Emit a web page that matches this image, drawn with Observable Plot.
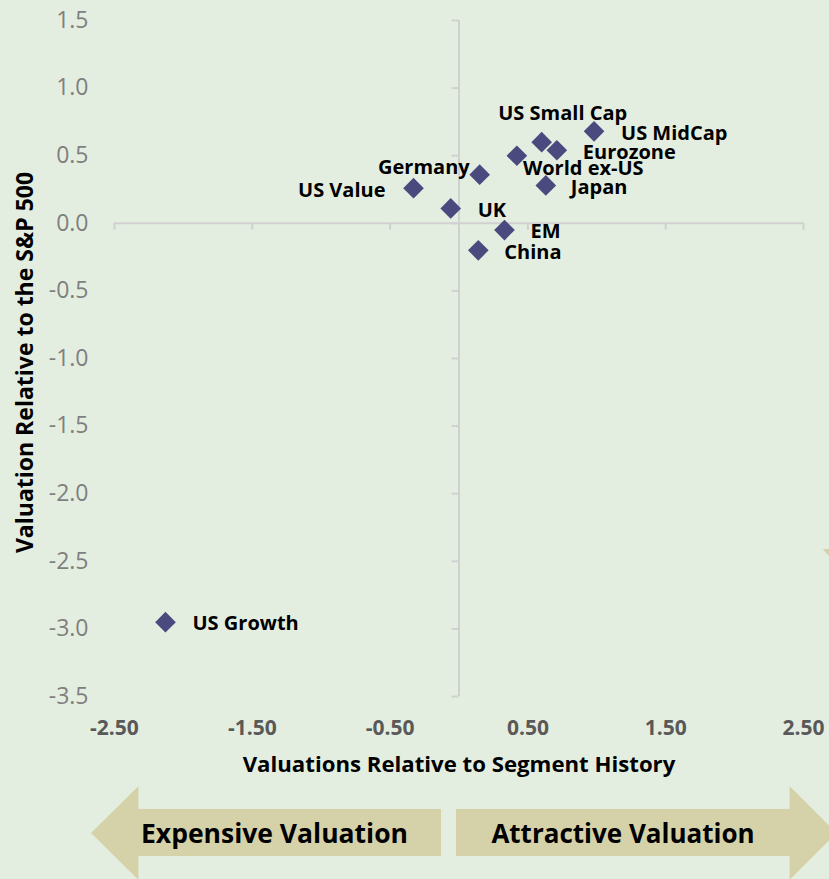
<!DOCTYPE html>
<html>
<head>
<meta charset="utf-8">
<script src="https://cdn.jsdelivr.net/npm/d3@7"></script>
<script src="https://cdn.jsdelivr.net/npm/@observablehq/plot@0.6"></script>
<style>
  html, body { margin: 0; padding: 0; background: #e4eee0; }
  #wrap { position: relative; width: 829px; height: 879px; overflow: hidden; background: #e4eee0; font-family: "Open Sans", sans-serif; }
  #wrap > svg.deco { position: absolute; left: 0; top: 0; pointer-events: none; }
</style>
</head>
<body>
<div id="wrap"></div>
<script>
// ---- data ----
const names   = ["US Small Cap", "US MidCap", "Eurozone", "World ex-US", "Germany", "US Value", "Japan", "UK", "EM", "China", "US Growth"];
const xValues = [0.60, 0.98, 0.71, 0.42, 0.15, -0.33, 0.63, -0.06, 0.33, 0.14, -2.13];
const yValues = [0.60, 0.68, 0.54, 0.50, 0.36, 0.26, 0.28, 0.11, -0.05, -0.20, -2.95];
const xTicks  = [-2.5, -1.5, -0.5, 0.5, 1.5, 2.5];
const yTicks  = [1.5, 1.0, 0.5, 0.0, -0.5, -1.0, -1.5, -2.0, -2.5, -3.0, -3.5];
const xTitle  = "Valuations Relative to Segment History";
const yTitle  = "Valuation Relative to the S&P 500";
const arrowLabels = ["Expensive Valuation", "Attractive Valuation"];

// ---- label placement (style, not data) ----
const placement = {
  "US Small Cap": {dx: 21, dy: -29, anchor: "middle"},
  "US MidCap":    {dx: 27, dy: 2, anchor: "start"},
  "Eurozone":     {dx: 26, dy: 2, anchor: "start"},
  "World ex-US":  {dx: 6,  dy: 13, anchor: "start"},
  "Germany":      {dx: -10, dy: -7, anchor: "end"},
  "US Value":     {dx: -28, dy: 2, anchor: "end"},
  "Japan":        {dx: 25, dy: 2, anchor: "start"},
  "UK":           {dx: 27, dy: 2, anchor: "start"},
  "EM":           {dx: 26, dy: 2, anchor: "start"},
  "China":        {dx: 26, dy: 2, anchor: "start"},
  "US Growth":    {dx: 27, dy: 1, anchor: "start"}
};

const points = names.map((n, i) => ({name: n, x: xValues[i], y: yValues[i]}));

const axisColor = "#d0d0d0";
const labelMarks = points.map(p => {
  const pl = placement[p.name];
  return Plot.text([p], {
    x: "x", y: "y", text: "name",
    dx: pl.dx, dy: pl.dy, textAnchor: pl.anchor,
    fontSize: 20, fontWeight: "bold", fill: "#000"
  });
});

const chart = Plot.plot({
  width: 829,
  height: 785,
  marginLeft: 114,
  marginRight: 26,
  marginTop: 20,
  marginBottom: 89,
  style: {background: "transparent", fontFamily: "'Open Sans', sans-serif", overflow: "visible"},
  x: {domain: [-2.5, 2.5], axis: null},
  y: {domain: [-3.5, 1.5], axis: null},
  marks: [
    // axis lines crossing at 0
    Plot.ruleY([0], {stroke: axisColor, strokeWidth: 2}),
    Plot.ruleX([0], {stroke: axisColor, strokeWidth: 2}),
    // tick marks on the crossing axes
    Plot.ruleX(xTicks, {x: d => d, y1: 0, y2: 0, insetBottom: -7, stroke: axisColor, strokeWidth: 2}),
    Plot.ruleY(yTicks, {y: d => d, x1: 0, x2: 0, insetLeft: -7, stroke: axisColor, strokeWidth: 2}),
    // tick labels at the frame edges
    Plot.axisX(xTicks, {anchor: "bottom", tickSize: 0, tickPadding: 24, tickFormat: d => d.toFixed(2),
      fontSize: 21, fontWeight: "bold", color: "#595959", label: null}),
    Plot.axisY(yTicks, {anchor: "left", tickSize: 0, tickPadding: 26, tickFormat: d => d.toFixed(1),
      fontSize: 23, color: "#7f7f7f", label: null}),
    // axis titles
    Plot.text([xTitle], {frameAnchor: "bottom", dy: 75, text: d => d, fontSize: 22.2, fontWeight: "bold", fill: "#000"}),
    Plot.text([yTitle], {frameAnchor: "left", dx: -89, dy: 4, rotate: -90, textAnchor: "middle", text: d => d, fontSize: 23, fontWeight: "bold", fill: "#000"}),
    // points
    Plot.dot(points, {x: "x", y: "y", symbol: "diamond2", r: 9.3, fill: "#4b4a7f", stroke: "none"}),
    ...labelMarks
  ]
});

const wrap = document.getElementById("wrap");
wrap.appendChild(chart);

// decorative arrows below the chart
const ns = "http://www.w3.org/2000/svg";
const deco = document.createElementNS(ns, "svg");
deco.setAttribute("class", "deco");
deco.setAttribute("width", 829);
deco.setAttribute("height", 879);
const arrowFill = "#d5d2aa";
const shapes = [
  "91,833 138.5,786 138.5,809 441,809 441,856 138.5,856 138.5,880",
  "456,809 789.5,809 789.5,786 836.5,833 789.5,880 789.5,856 456,856",
  "822.7,549 829,549 829,556"
];
shapes.forEach(pts => {
  const p = document.createElementNS(ns, "polygon");
  p.setAttribute("points", pts);
  p.setAttribute("fill", arrowFill);
  deco.appendChild(p);
});
[[274.5, arrowLabels[0], 26.5], [623, arrowLabels[1], 26]].forEach(([cx, t, fs]) => {
  const tx = document.createElementNS(ns, "text");
  tx.setAttribute("x", cx);
  tx.setAttribute("y", 833);
  tx.setAttribute("text-anchor", "middle");
  tx.setAttribute("dominant-baseline", "central");
  tx.setAttribute("font-family", "'Open Sans', sans-serif");
  tx.setAttribute("font-weight", "bold");
  tx.setAttribute("font-size", fs);
  tx.setAttribute("fill", "#000");
  tx.textContent = t;
  deco.appendChild(tx);
});
wrap.appendChild(deco);
</script>
</body>
</html>
